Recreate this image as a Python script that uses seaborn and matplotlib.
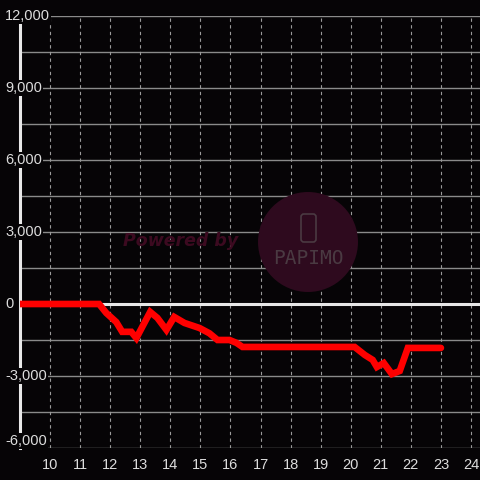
import matplotlib
matplotlib.use("Agg")
import matplotlib.pyplot as plt
from matplotlib.patches import Circle, FancyBboxPatch
import seaborn as sns
import pandas as pd
import numpy as np

# ---- data ----
hours = [9.0, 11.63, 11.87, 12.2, 12.4, 12.7, 12.87, 13.33, 13.57, 13.87, 14.13,
         14.47, 14.97, 15.3, 15.57, 15.97, 16.2, 16.4, 20.13, 20.47, 20.73,
         20.87, 21.1, 21.37, 21.63, 21.9, 23.0]
values = [0, 0, -375, -750, -1160, -1160, -1420, -330, -580, -1080, -540,
          -790, -1000, -1220, -1500, -1500, -1620, -1790, -1790, -2125, -2330,
          -2625, -2460, -2920, -2790, -1830, -1830]
x_ticks = list(range(10, 25))
y_ticks = [-6000, -3000, 0, 3000, 6000, 9000, 12000]
y_tick_labels = ["-6,000", "-3,000", "0", "3,000", "6,000", "9,000", "12,000"]

df = pd.DataFrame({"hour": hours, "value": values})

sns.set_style("dark")
bg = "#060406"
plt.rcParams["font.family"] = ["Liberation Sans", "DejaVu Sans"]

fig = plt.figure(figsize=(4.8, 4.8), dpi=100, facecolor=bg)
ax = fig.add_axes([20 / 480, 32 / 480, 460 / 480, 432 / 480])
ax.set_facecolor(bg)

# watermark (behind grid)
fig.patches.append(Circle((308 / 480, 1 - 242 / 480), 50 / 480,
                          transform=fig.transFigure, facecolor="#2e0a1e",
                          edgecolor="none", zorder=0))
fig.patches.append(FancyBboxPatch((301 / 480, 1 - 242 / 480), 15 / 480, 28 / 480,
                                  boxstyle="round,pad=0,rounding_size=0.006",
                                  transform=fig.transFigure, facecolor="none",
                                  edgecolor="#4a3a42", linewidth=1.2, zorder=0))
fig.text(308 / 480, 1 - 258 / 480, "PAPIMO", family="DejaVu Sans Mono",
         fontsize=14, color="#4a3a42", ha="center", va="center", zorder=0)
fig.text(181 / 480, 1 - 241 / 480, "Powered by", family="DejaVu Sans",
         fontsize=12.5, fontweight="bold", style="italic", color="#3c0a20",
         ha="center", va="center", zorder=0)

ax.set_xlim(9.0, 24.3)
ax.set_ylim(-6000, 12000)

# grid
for yv in np.arange(-6000, 12001, 1500):
    ax.axhline(yv, color="#8a8a8a", linewidth=1, zorder=1)
for xv in x_ticks:
    ax.axvline(xv, color="#9a9a9a", linewidth=0.8, linestyle=(0, (3, 3)), zorder=1)
ax.axhline(0, color="#e8e8e8", linewidth=2.2, zorder=2)

sns.lineplot(data=df, x="hour", y="value", ax=ax, color="#ff0000",
             linewidth=4.8, zorder=4, solid_joinstyle="miter")

for s in ["top", "right", "bottom"]:
    ax.spines[s].set_visible(False)
ax.spines["left"].set_color("#e8e8e8")
ax.spines["left"].set_linewidth(2.2)
ax.spines["left"].set_zorder(2.5)

ax.set_xticks(x_ticks)
ax.set_xticklabels([str(t) for t in x_ticks])
ax.tick_params(axis="x", length=0, pad=7, colors="#dddddd", labelsize=10.5)
ax.set_yticks([])
ax.set_xlabel("")
ax.set_ylabel("")
ax.grid(False)

import matplotlib.transforms as mtrans
trans = mtrans.blended_transform_factory(fig.transFigure, ax.transData)
for yv, lab in zip(y_ticks, y_tick_labels):
    off = 7 * 3000 / 72 if yv == -6000 else 0
    ax.text(5 / 480, yv + off, lab, transform=trans, ha="left", va="center",
            fontsize=10.5, color="#dddddd", clip_on=False, zorder=5,
            bbox=dict(facecolor=bg, edgecolor="none", pad=1))

fig.savefig("out.png", dpi=100, facecolor=bg)
